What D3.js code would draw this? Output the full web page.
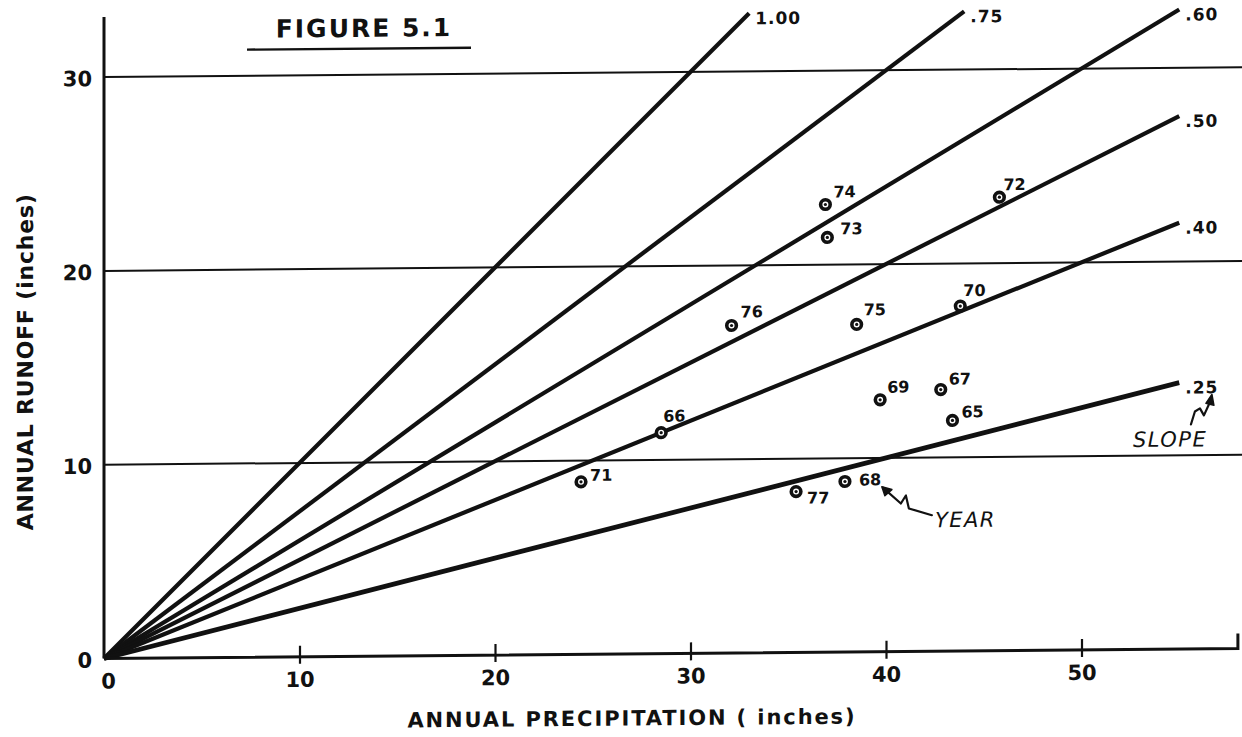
<!DOCTYPE html>
<html>
<head>
<meta charset="utf-8">
<script src="https://cdn.jsdelivr.net/npm/d3@7"></script>
<style>
  html, body { margin: 0; padding: 0; background: #fff; }
  svg { display: block; }
  text { font-family: "DejaVu Sans", sans-serif; fill: #111; }
</style>
</head>
<body>
<svg id="chart" width="1242" height="737"></svg>
<script>
// Annual runoff against annual precipitation, one point per year
const years         = ["65", "66", "67", "68", "69", "70", "71", "72", "73", "74", "75", "76", "77"];
const precipitation = [43.4, 28.5, 42.8, 37.9, 39.7, 43.8, 24.4, 45.8, 37.0, 36.9, 38.5, 32.1, 35.4];
const runoff        = [11.9, 11.4, 13.5,  8.8, 13.0, 17.8,  8.9, 23.4, 21.4, 23.1, 16.9, 16.9,  8.3];

// Runoff-ratio guide lines through the origin
const slopes      = [1.00, 0.75, 0.60, 0.50, 0.40, 0.25];
const slopeLabels = ["1.00", ".75", ".60", ".50", ".40", ".25"];

const xTickValues = [0, 10, 20, 30, 40, 50];
const yTickValues = [0, 10, 20, 30];

// Year label placement around each marker (pixels)
const labelOffsets = [
  [9, -3], [2, -11], [8, -5], [14, 4], [7, -7], [3, -10], [9, -1],
  [4, -7], [13, -3], [8, -7], [7, -9], [9, -8], [11, 12]
];

const svg = d3.select("#chart");

// The drafted sheet sits slightly askew
const g = svg.append("g").attr("transform", "skewY(-0.5)");

const x = d3.scaleLinear().domain([0, 58]).range([104, 104 + 58 * 19.55]);
const y = d3.scaleLinear().domain([0, 33.1]).range([659.4, 659.4 - 33.1 * 19.38]);
const lineTop = 33;
const gridEnd = 58.3;
const lineEnd = 55;

// Horizontal rulings
g.append("g").selectAll("line")
  .data(yTickValues.filter(v => v > 0))
  .join("line")
  .attr("x1", x(0)).attr("x2", x(gridEnd))
  .attr("y1", d => y(d)).attr("y2", d => y(d))
  .attr("stroke", "#111").attr("stroke-width", 2);

// Guide lines
const guide = d3.line().x(d => x(d[0])).y(d => y(d[1]));
g.append("g").selectAll("path")
  .data(slopes)
  .join("path")
  .attr("d", s => {
    const u = Math.min(lineEnd, lineTop / s);
    return guide([[0, 0], [u, u * s]]);
  })
  .attr("fill", "none")
  .attr("stroke", "#111")
  .attr("stroke-width", s => s === 0.25 ? 4.8 : 4.2);

g.append("g").selectAll("text")
  .data(slopes)
  .join("text")
  .attr("x", s => x(Math.min(lineEnd, lineTop / s)) + 6)
  .attr("y", s => { const u = Math.min(lineEnd, lineTop / s); return y(u * s) + 5; })
  .attr("dy", "0.35em")
  .attr("font-size", 17)
  .attr("font-weight", "bold")
  .attr("letter-spacing", 1)
  .text((s, i) => slopeLabels[i]);

// Axes
const xAxis = d3.axisBottom(x).tickValues(xTickValues).tickFormat(d3.format("d")).tickSize(0).tickPadding(0);
const xAxisG = g.append("g").attr("transform", `translate(0,${y(0)})`).call(xAxis);
xAxisG.select(".domain").remove();
xAxisG.selectAll(".tick line")
  .attr("y1", d => d === 0 ? 0 : -11).attr("y2", d => d === 0 ? 0 : 7)
  .attr("stroke", "#111").attr("stroke-width", 2.2);
xAxisG.selectAll(".tick text")
  .attr("y", 30).attr("dy", 0)
  .attr("dx", d => d === 0 ? 4 : 0)
  .attr("font-size", 21).attr("font-weight", "bold")
  .attr("font-family", "DejaVu Sans, sans-serif").attr("fill", "#111");

g.append("path")
  .attr("d", `M${x(0)},${y(0)}H${x(58)}V${y(0) - 15}`)
  .attr("fill", "none").attr("stroke", "#111").attr("stroke-width", 3);

const yAxis = d3.axisLeft(y).tickValues(yTickValues).tickFormat(d3.format("d")).tickSize(0).tickPadding(12);
const yAxisG = g.append("g").attr("transform", `translate(${x(0)},0)`).call(yAxis);
yAxisG.select(".domain").remove();
yAxisG.selectAll(".tick text")
  .attr("dy", "0.4em")
  .attr("font-size", 21).attr("font-weight", "bold")
  .attr("font-family", "DejaVu Sans, sans-serif").attr("fill", "#111");

g.append("line")
  .attr("x1", x(0)).attr("x2", x(0))
  .attr("y1", y(0)).attr("y2", y(33.1))
  .attr("stroke", "#111").attr("stroke-width", 3);

// Year markers
const pts = years.map((yr, i) => ({ yr, p: precipitation[i], r: runoff[i], off: labelOffsets[i] }));
const mk = g.append("g").selectAll("g").data(pts).join("g")
  .attr("transform", d => `translate(${x(d.p)},${y(d.r)})`);
mk.append("circle").attr("r", 4.8).attr("fill", "#fff").attr("stroke", "#111").attr("stroke-width", 3.6);
mk.append("circle").attr("r", 1.6).attr("fill", "#111");
mk.append("text")
  .attr("x", d => d.off[0]).attr("y", d => d.off[1])
  .attr("font-size", 16).attr("font-weight", "bold")
  .text(d => d.yr);

// Title
const titleX = 364;
g.append("text")
  .attr("x", titleX).attr("y", 40)
  .attr("text-anchor", "middle")
  .attr("font-size", 25).attr("font-weight", "bold")
  .attr("letter-spacing", 2)
  .text("FIGURE 5.1");
g.append("line")
  .attr("x1", 247).attr("x2", 471).attr("y1", 51.8).attr("y2", 51.8)
  .attr("stroke", "#111").attr("stroke-width", 2.4);

// Axis titles
g.append("text")
  .attr("x", 632).attr("y", 731)
  .attr("text-anchor", "middle")
  .attr("font-size", 21).attr("font-weight", "bold")
  .attr("letter-spacing", 1.9)
  .text("ANNUAL PRECIPITATION ( inches)");

g.append("text")
  .attr("transform", "translate(33,362) rotate(-90)")
  .attr("text-anchor", "middle")
  .attr("font-size", 22).attr("font-weight", "bold")
  .attr("letter-spacing", 0.8)
  .text("ANNUAL RUNOFF (inches)");

// Hand-lettered notes with squiggle arrows
function note(label, u, v, arrow, head) {
  const ax = x(u), ay = y(v);
  const ng = g.append("g").attr("transform", `translate(${ax},${ay})`);
  ng.append("text")
    .attr("font-size", 21).attr("font-style", "italic")
    .attr("letter-spacing", 1.5)
    .text(label);
  ng.append("path")
    .attr("d", d3.line()(arrow))
    .attr("fill", "none").attr("stroke", "#111").attr("stroke-width", 2.2)
    .attr("stroke-linejoin", "round").attr("stroke-linecap", "round");
  ng.append("path")
    .attr("d", d3.line()(head) + "Z")
    .attr("fill", "#111").attr("stroke", "#111").attr("stroke-width", 1.5)
    .attr("stroke-linejoin", "round");
}

note("YEAR", 42.5, 6.4,
  [[-3, -12], [-26, -19], [-29, -32], [-34, -24], [-52, -40]],
  [[-53, -41], [-43, -38], [-50, -32]]);

note("SLOPE", 52.63, 10.45,
  [[58, -22], [62, -35], [67, -38], [71, -31], [77, -44]],
  [[79, -52], [81, -41], [73, -43]]);
</script>
</body>
</html>
